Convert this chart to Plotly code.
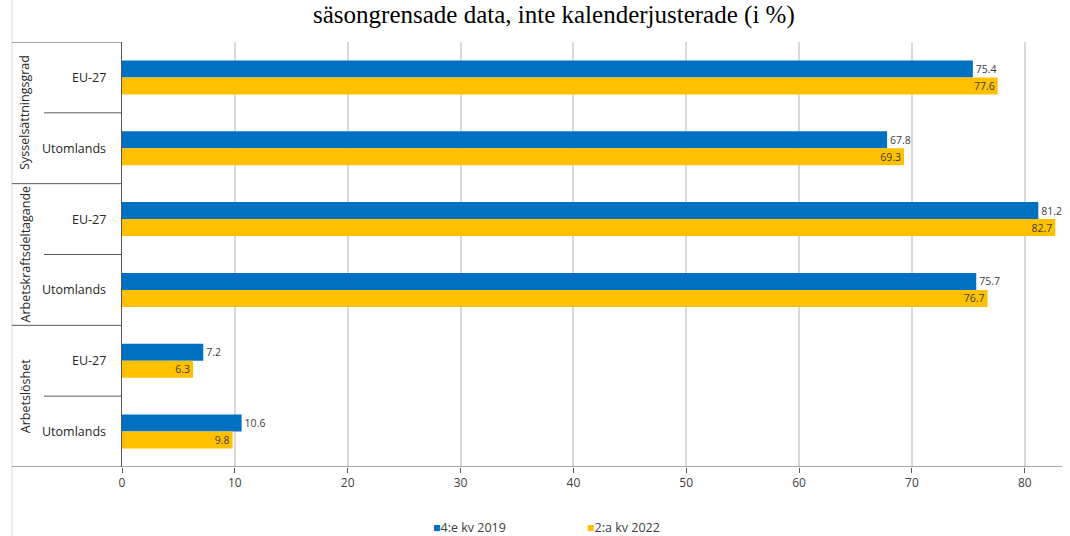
import plotly.graph_objects as go

# ---- data ----
groups = ["Sysselsättningsgrad", "Sysselsättningsgrad",
          "Arbetskraftsdeltagande", "Arbetskraftsdeltagande",
          "Arbetslöshet", "Arbetslöshet"]
subcats = ["EU-27", "Utomlands", "EU-27", "Utomlands", "EU-27", "Utomlands"]
series_names = ["4:e kv 2019", "2:a kv 2022"]
values_2019 = [75.4, 67.8, 81.2, 75.7, 7.2, 10.6]
values_2022 = [77.6, 69.3, 82.7, 76.7, 6.3, 9.8]
group_names = ["Sysselsättningsgrad", "Arbetskraftsdeltagande", "Arbetslöshet"]
x_ticks = [0, 10, 20, 30, 40, 50, 60, 70, 80]
title_text = "säsongrensade data, inte kalenderjusterade (i %)"

colors = ["#0070C0", "#FFC000"]
keys = [f"{g} – {s}" for g, s in zip(groups, subcats)]

W, H = 1070, 536
ML, MR, MT, MB = 122, 8, 42, 69
PW, PH = W - ML - MR, H - MT - MB

def px_x(p):
    return (p - ML) / PW

def px_y(p):
    return 1 + (MT - p) / PH

FONT = "Open Sans, Liberation Sans, sans-serif"

fig = go.Figure()
fig.add_trace(go.Bar(
    y=keys, x=values_2019, orientation="h", name=series_names[0],
    marker=dict(color=colors[0], line=dict(width=0)),
    text=[f"{v:.1f}" for v in values_2019], textposition="outside",
    textfont=dict(size=10.5, color="#404040", family=FONT),
    cliponaxis=False, showlegend=False,
))
fig.add_trace(go.Bar(
    y=keys, x=values_2022, orientation="h", name=series_names[1],
    marker=dict(color=colors[1], line=dict(width=0)),
    text=[f"{v:.1f}" for v in values_2022], textposition="inside",
    insidetextanchor="end",
    textfont=dict(size=10.5, color="#404040", family=FONT),
    cliponaxis=False, showlegend=False,
))

fig.update_layout(
    width=W, height=H,
    margin=dict(l=ML, r=MR, t=MT, b=MB),
    barmode="group", bargap=0.52, bargroupgap=0,
    plot_bgcolor="white", paper_bgcolor="white",
    font=dict(family=FONT, color="#404040"),
    uniformtext=dict(mode="show", minsize=10),
)
fig.update_xaxes(
    range=[0, 83.3], tickvals=x_ticks, ticktext=[str(t) for t in x_ticks],
    showgrid=True, gridcolor="#D9D9D9", gridwidth=1.5,
    zeroline=False, showline=False,
    ticks="outside", ticklen=5, tickcolor="#595959", tickwidth=1,
    tickfont=dict(size=12, color="#404040", family=FONT),
)
fig.update_yaxes(
    range=[5.5, -0.5], showticklabels=False, showgrid=False,
    showline=True, linecolor="#595959", linewidth=1, zeroline=False, ticks="",
)

shapes = []
# left light border
shapes.append(dict(type="line", xref="paper", yref="paper",
                   x0=px_x(12), x1=px_x(12), y0=px_y(H + 2), y1=px_y(-2),
                   line=dict(color="#D9D9D9", width=1)))
# group separators
for yv in [-0.5, 1.5, 3.5]:
    shapes.append(dict(type="line", xref="paper", yref="y",
                       x0=px_x(12), x1=0, y0=yv, y1=yv,
                       line=dict(color="#595959", width=1)))
# subcategory separators
for yv in [0.5, 2.5, 4.5]:
    shapes.append(dict(type="line", xref="paper", yref="y",
                       x0=px_x(44), x1=0, y0=yv, y1=yv,
                       line=dict(color="#595959", width=1)))
# bottom axis line
shapes.append(dict(type="line", xref="paper", yref="y",
                   x0=px_x(12), x1=1.0, y0=5.5, y1=5.5,
                   line=dict(color="#595959", width=1)))
fig.update_layout(shapes=shapes)

ann = []
for k, s in zip(keys, subcats):
    ann.append(dict(x=px_x(108), y=k, xref="paper", yref="y", text=s,
                    showarrow=False, xanchor="right", yanchor="middle",
                    font=dict(size=12.5, color="#262626", family=FONT)))
for i, g in enumerate(group_names):
    ann.append(dict(x=px_x(25), y=2 * i + 0.5, xref="paper", yref="y", text=g,
                    showarrow=False, textangle=-90, xanchor="center", yanchor="middle",
                    font=dict(size=12.5, color="#262626", family=FONT)))
# title
ann.append(dict(x=px_x(554), y=px_y(-1), xref="paper", yref="paper", text=title_text,
                showarrow=False, xanchor="center", yanchor="top",
                font=dict(size=25, color="#000000", family="Liberation Serif, serif")))
# legend
leg_x = [431, 585]
for name, c, lx in zip(series_names, colors, leg_x):
    ann.append(dict(x=px_x(lx), y=px_y(527), xref="paper", yref="paper",
                    text=f"<span style='color:{c}'>■</span>{name}",
                    showarrow=False, xanchor="left", yanchor="middle",
                    font=dict(size=12.5, color="#404040", family=FONT)))
fig.update_layout(annotations=ann)

fig.write_html("out.html", config={"displayModeBar": False},
               post_script="document.body.style.margin='0';document.body.style.overflow='hidden';")
